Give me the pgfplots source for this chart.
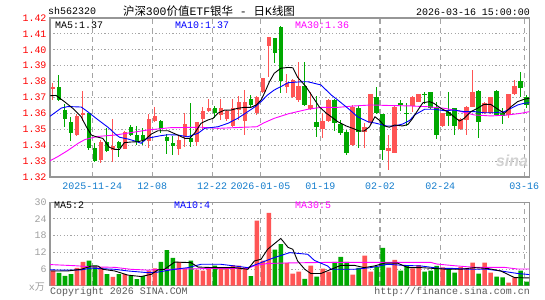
\documentclass[border=0pt]{standalone}
\usepackage{pgfplots}
\pgfplotsset{compat=1.18}
\usepackage{pgfplotstable}
\usepackage{fontspec}
\setmainfont{Liberation Mono}
\setmonofont{Liberation Mono}
\newfontfamily\cjk{Noto Sans CJK SC}
\newfontfamily\sansb{Liberation Sans}
\definecolor{cred}{RGB}{255,85,85}
\definecolor{cgreen}{RGB}{0,168,0}
\definecolor{cblue}{RGB}{0,0,255}
\definecolor{cmag}{RGB}{255,0,255}
\definecolor{framec}{RGB}{150,150,150}
\definecolor{gridc}{RGB}{165,165,165}
\definecolor{datec}{RGB}{20,125,205}
\definecolor{vlab}{RGB}{160,160,160}
\definecolor{copyc}{RGB}{90,90,90}

% red (rising) candles: index open high low close volume
\pgfplotstableread{
i o h l c v
0 1.3755 1.3793 1.3684 1.3765 5.4
4 1.3464 1.3596 1.3458 1.3586 6.4
5 1.3595 1.3741 1.3555 1.3601 8.6
8 1.3310 1.3433 1.3288 1.3422 6.6
10 1.3367 1.3565 1.3296 1.3398 3.2
12 1.3378 1.3492 1.3373 1.3483 4.2
16 1.3426 1.3594 1.3380 1.3562 5.4
17 1.3552 1.3638 1.3546 1.3584 6.2
21 1.3376 1.3464 1.3338 1.3433 8.6
22 1.3450 1.3601 1.3387 1.3533 6.2
24 1.3422 1.3547 1.3395 1.3544 5.8
25 1.3565 1.3638 1.3496 1.3617 5.4
26 1.3617 1.3689 1.3610 1.3636 6.2
28 1.3590 1.3689 1.3558 1.3636 6.6
29 1.3565 1.3620 1.3555 1.3615 6.2
30 1.3521 1.3689 1.3512 1.3632 7.4
31 1.3621 1.3709 1.3558 1.3674 7.2
32 1.3554 1.3747 1.3464 1.3674 6.6
34 1.3604 1.3710 1.3590 1.3701 23.4
35 1.3736 1.3825 1.3728 1.3821 9.0
36 1.4026 1.4079 1.3831 1.4079 26.2
39 1.3768 1.3846 1.3730 1.3789 8.2
40 1.3701 1.3815 1.3697 1.3810 4.3
41 1.3684 1.3921 1.3674 1.3774 5.1
43 1.3626 1.3736 1.3620 1.3653 7.2
45 1.3500 1.3601 1.3443 1.3552 6.1
46 1.3554 1.3689 1.3549 1.3684 5.1
50 1.3401 1.3653 1.3395 1.3638 4.0
52 1.3485 1.3538 1.3380 1.3516 10.8
53 1.3538 1.3725 1.3532 1.3722 5.1
56 1.3365 1.3464 1.3244 1.3380 6.5
57 1.3353 1.3647 1.3350 1.3642 9.3
60 1.3647 1.3709 1.3611 1.3705 6.2
61 1.3674 1.3725 1.3670 1.3720 7.4
65 1.3521 1.3605 1.3515 1.3601 6.6
68 1.3500 1.3570 1.3495 1.3565 6.7
69 1.3558 1.3645 1.3464 1.3642 6.2
70 1.3642 1.3873 1.3640 1.3736 8.3
72 1.3601 1.3670 1.3595 1.3667 8.3
73 1.3601 1.3705 1.3595 1.3701 4.7
76 1.3590 1.3725 1.3569 1.3722 1.1
77 1.3722 1.3810 1.3717 1.3772 3.0
}\redtab

% green (falling) candles
\pgfplotstableread{
i o h l c v
1 1.3768 1.3841 1.3678 1.3684 4.6
2 1.3624 1.3656 1.3516 1.3568 3.5
3 1.3548 1.3580 1.3428 1.3474 4.2
6 1.3602 1.3605 1.3370 1.3385 9.0
7 1.3380 1.3412 1.3296 1.3300 7.3
9 1.3422 1.3506 1.3357 1.3365 4.2
11 1.3422 1.3425 1.3328 1.3381 4.2
13 1.3516 1.3530 1.3458 1.3464 3.4
14 1.3464 1.3521 1.3401 1.3422 2.4
15 1.3464 1.3510 1.3400 1.3432 3.4
18 1.3554 1.3556 1.3475 1.3502 8.6
19 1.3453 1.3470 1.3345 1.3428 12.8
20 1.3412 1.3458 1.3338 1.3395 10.0
23 1.3443 1.3667 1.3391 1.3422 9.0
27 1.3632 1.3647 1.3569 1.3604 7.2
33 1.3691 1.3716 1.3638 1.3653 3.4
37 1.4072 1.4075 1.3919 1.3978 13.0
38 1.4145 1.4150 1.3730 1.3806 15.0
42 1.3774 1.3921 1.3647 1.3653 2.5
44 1.3548 1.3709 1.3450 1.3516 3.3
47 1.3684 1.3689 1.3491 1.3538 8.6
48 1.3531 1.3558 1.3464 1.3475 10.4
49 1.3485 1.3496 1.3338 1.3349 8.6
51 1.3632 1.3647 1.3380 1.3485 6.4
54 1.3701 1.3764 1.3595 1.3601 6.7
55 1.3596 1.3596 1.3307 1.3370 13.6
58 1.3664 1.3684 1.3617 1.3658 5.4
59 1.3605 1.3667 1.3521 1.3599 7.2
62 1.3722 1.3736 1.3657 1.3716 5.1
63 1.3733 1.3735 1.3628 1.3632 5.4
64 1.3632 1.3674 1.3439 1.3464 7.1
66 1.3607 1.3736 1.3521 1.3585 6.0
67 1.3632 1.3635 1.3464 1.3521 4.7
71 1.3741 1.3745 1.3447 1.3548 4.3
74 1.3741 1.3745 1.3588 1.3590 3.3
75 1.3601 1.3632 1.3531 1.3585 3.0
78 1.3806 1.3862 1.3705 1.3758 5.4
79 1.3703 1.3716 1.3634 1.3653 1.5
}\greentab

\pgfplotsset{
  kframe/.style={
    scale only axis, anchor=south west,
    xmin=-0.5, xmax=79.45,
    axis line style={draw=framec, line width=1.3bp},
    major tick length=0pt,
    xtick={6.55,16.55,26.55,34.6,44.6,54.55,64.6,78.6},
    xmajorgrids, ymajorgrids,
    x grid style={dash pattern=on 5bp off 4bp, line width=1.2bp, color=gridc},
    y grid style={dash pattern=on 1.2bp off 2.2bp, line width=1bp, color=gridc},
    tick label style={font=\fontsize{10}{10}\selectfont},
    /pgf/number format/assume math mode=true,
  },
  wick/.style={draw=none, mark=none, forget plot,
    error bars/.cd, y dir=both, y explicit, error mark=none,
    error bar style={draw=#1, line width=1bp, solid}},
  body/.style={draw=none, mark=none, forget plot,
    error bars/.cd, y dir=both, y explicit, error mark=none,
    error bar style={draw=#1, line width=4.6bp, solid}},
}

\begin{document}
\begin{tikzpicture}
\fill[white] (0,0) rectangle (545bp,300bp);
% ---------------- price panel ----------------
\begin{axis}[kframe, at={(50bp,123bp)}, width=479.3bp, height=159bp,
  ymin=1.32, ymax=1.42,
  ytick={1.32,1.33,1.34,1.35,1.36,1.37,1.38,1.39,1.40,1.41,1.42},
  yticklabel style={text=red, /pgf/number format/.cd, fixed, fixed zerofill, precision=2},
  xticklabels={2025-11-24,12-08,12-22,2026-01-05,01-19,02-02,02-24,03-16},
  xticklabel style={text=datec, yshift=-2bp},
]
\addplot[wick=cred] table[x=i, y expr={(\thisrow{h}+\thisrow{l})/2}, y error expr={(\thisrow{h}-\thisrow{l})/2}] {\redtab};
\addplot[body=cred] table[x=i, y expr={(\thisrow{o}+\thisrow{c})/2}, y error expr={max(abs(\thisrow{c}-\thisrow{o})/2,0.0003)}] {\redtab};
\addplot[wick=cgreen] table[x=i, y expr={(\thisrow{h}+\thisrow{l})/2}, y error expr={(\thisrow{h}-\thisrow{l})/2}] {\greentab};
\addplot[body=cgreen] table[x=i, y expr={(\thisrow{o}+\thisrow{c})/2}, y error expr={max(abs(\thisrow{c}-\thisrow{o})/2,0.0003)}] {\greentab};
% MA30
\addplot[cmag, line width=0.9bp, mark=none] coordinates {
(-0.5,1.3302) (0.8,1.3328) (2.4,1.3365) (4.2,1.3412) (5.3,1.3435) (7.4,1.3455) (10.4,1.3464) (13,1.3479) (15.7,1.3495) (19.5,1.3510) (24.7,1.3513) (27.5,1.3506) (31.9,1.3513) (34,1.3516) (35.2,1.3541) (36.9,1.3569) (39.3,1.3598) (42.5,1.3626) (44.7,1.3638) (47.5,1.3638) (50.3,1.3647) (53.1,1.3653) (55.8,1.3650) (59.5,1.3647) (62.5,1.3642) (65.3,1.3632) (67.5,1.3617) (70.3,1.3590) (73.1,1.3584) (75.9,1.3590) (78.1,1.3601) (79.45,1.3611)};
% MA10
\addplot[cblue, line width=0.9bp, mark=none] coordinates {
(-0.5,1.3582) (1.4,1.3634) (2.5,1.3643) (3.4,1.3642) (4.7,1.3640) (5.6,1.3616) (7.5,1.3560) (9.2,1.3512) (10.4,1.3470) (11.1,1.3450) (12.6,1.3438) (13.8,1.3425) (14.7,1.3412) (15.7,1.3443) (16.9,1.3452) (18,1.3460) (19.2,1.3466) (20.8,1.3464) (22.5,1.3453) (24.2,1.3475) (25.3,1.3506) (27.5,1.3516) (29.2,1.3538) (30.8,1.3569) (32.5,1.3611) (33.9,1.3647) (34.7,1.3674) (35.8,1.3716) (36.9,1.3747) (38,1.3768) (39.2,1.3793) (41.4,1.3799) (42.5,1.3799) (44.7,1.3779) (46.4,1.3716) (47.5,1.3684) (49.2,1.3632) (50.8,1.3579) (52.5,1.3548) (53.9,1.3538) (55.6,1.3521) (57,1.3521) (58.3,1.3533) (59.5,1.3556) (60.3,1.3590) (62,1.3626) (63.6,1.3626) (65.3,1.3617) (66.9,1.3621) (68.6,1.3611) (70.3,1.3611) (71.9,1.3604) (73.6,1.3604) (75.3,1.3611) (76.4,1.3632) (77.5,1.3653) (78.6,1.3664) (79.45,1.3667)};
% MA5
\addplot[black, line width=0.9bp, mark=none] coordinates {
(-0.5,1.3711) (0.5,1.3713) (1.9,1.3674) (3.3,1.3632) (4.7,1.3579) (5.5,1.3520) (6.4,1.3464) (7.2,1.3453) (8.3,1.3443) (9.4,1.3387) (10.3,1.3374) (11.1,1.3374) (11.9,1.3416) (13,1.3420) (14.2,1.3422) (15.3,1.3433) (16.4,1.3470) (17.5,1.3491) (19.2,1.3491) (20.8,1.3464) (22,1.3443) (22.8,1.3443) (23.6,1.3475) (24.7,1.3538) (25.8,1.3558) (26.7,1.3569) (27.5,1.3601) (28.6,1.3621) (29.7,1.3621) (30.8,1.3632) (31.9,1.3638) (33,1.3638) (33.9,1.3653) (34.7,1.3684) (35.3,1.3730) (36.1,1.3799) (36.9,1.3852) (38,1.3884) (39.2,1.3889) (40,1.3887) (40.8,1.3827) (42.2,1.3768) (43.3,1.3705) (44.4,1.3642) (45.6,1.3601) (46.4,1.3579) (47.5,1.3548) (48.9,1.3521) (50,1.3506) (51.1,1.3489) (51.9,1.3489) (52.8,1.3516) (53.7,1.3579) (54.4,1.3558) (55.3,1.3521) (56.1,1.3513) (57,1.3527) (58.3,1.3521) (59.2,1.3530) (60,1.3569) (60.8,1.3617) (61.7,1.3667) (62.8,1.3674) (63.5,1.3664) (64.7,1.3632) (65.8,1.3611) (66.9,1.3579) (67.8,1.3552) (68.6,1.3569) (69.7,1.3611) (70.8,1.3632) (71.9,1.3657) (73,1.3657) (74.2,1.3626) (75.3,1.3601) (76.4,1.3642) (77.5,1.3674) (78.6,1.3689) (79.45,1.3695)};
\end{axis}
% ---------------- volume panel ----------------
\begin{axis}[kframe, at={(50bp,14.3bp)}, width=479.3bp, height=83.4bp,
  ymin=0, ymax=30, ytick={0,6,12,18,24,30}, yticklabels={,6,12,18,24,30},
  yticklabel style={text=vlab},
  xticklabels={},
]
\addplot[ybar, bar width=4.6bp, bar shift=0pt, fill=cred, draw=none, forget plot] table[x=i, y=v] {\redtab};
\addplot[ybar, bar width=4.6bp, bar shift=0pt, fill=cgreen, draw=none, forget plot] table[x=i, y=v] {\greentab};
\addplot[cmag, line width=0.9bp, mark=none] coordinates {
(-0.5,7.6) (3.6,7.2) (6.4,6.8) (10.3,6.6) (13,5.9) (15.8,5.6) (17.5,5.8) (21.4,6.0) (26.9,6.2) (32.5,6.2) (33.6,7.2) (35.8,8.0) (39.5,8.2) (46.4,8.4) (63,8.4) (64,7.8) (66.9,7.2) (70.3,6.6) (75.3,6.6) (77.5,6.0) (79.45,6.0)};
\addplot[cblue, line width=0.9bp, mark=none] coordinates {
(-0.5,5.7) (1.9,5.6) (4.7,5.7) (6.4,6.3) (10.3,5.9) (12.5,5.3) (15.8,4.7) (17.5,4.9) (20.3,5.9) (22.5,6.5) (24.7,7.7) (28,7.7) (30.3,7.1) (32.5,6.5) (34.7,8.3) (36.9,10.1) (39.5,11.9) (42.5,11.3) (43.6,9.1) (45.8,7.1) (46.4,5.9) (50.3,5.9) (53,6.5) (55.8,7.7) (58.6,7.3) (61.4,7.1) (64.2,6.3) (66.9,6.2) (69.7,5.9) (72.5,5.9) (74.7,5.3) (77.5,4.4) (79.45,4.0)};
\addplot[black, line width=0.9bp, mark=none] coordinates {
(-0.3,5.3) (2.5,5.3) (4.7,5.9) (6.4,7.1) (7.5,7.1) (8.3,5.9) (10.3,5.3) (12.5,3.8) (14.7,3.3) (16.4,4.1) (17.5,5.7) (18.6,5.9) (20.3,8.5) (23,8.3) (24.2,6.7) (26.9,6.5) (30.3,6.5) (32.5,5.9) (33.6,8.9) (34.7,9.5) (35.8,13.1) (38,17.0) (39.2,13.8) (40,13.1) (40.8,8.9) (42,5.9) (43,4.4) (44.7,4.4) (46.4,5.9) (48,7.3) (50.3,7.3) (51.9,6.5) (53.6,7.1) (55.3,8.1) (57.5,8.1) (59.2,6.5) (61.4,6.5) (63.6,6.2) (65.8,5.9) (68,5.9) (70.3,6.5) (72.5,6.2) (74.7,5.3) (77,2.9) (79.45,2.8)};
\end{axis}
% ---------------- texts ----------------
\begin{scope}[every node/.style={inner sep=0pt, font=\fontsize{10}{10}\selectfont}]
\node[anchor=west] at (48bp,289bp) {sh562320};
\node[font=\fontsize{11.5}{12}\selectfont] at (209bp,289bp) {{\cjk 沪深}300{\cjk 价值}ETF{\cjk 银华} - {\cjk 日}K{\cjk 线图}};
\node[anchor=east] at (530bp,288bp) {2026-03-16 15:00:00};
\node[anchor=west] at (55bp,275bp) {MA5:1.37};
\node[anchor=west, text=cblue] at (175bp,275bp) {MA10:1.37};
\node[anchor=west, text=cmag] at (295bp,275bp) {MA30:1.36};
\node[anchor=west] at (54bp,94.5bp) {MA5:2};
\node[anchor=west, text=cblue] at (174bp,94.5bp) {MA10:4};
\node[anchor=west, text=cmag] at (295bp,94.5bp) {MA30:5};
\node[anchor=east, text=vlab] at (45bp,13bp) {x{\cjk 万}};
\node[anchor=west, text=copyc] at (50bp,8bp) {Copyright 2026 SINA.COM};
\node[anchor=east, text=copyc] at (530bp,8bp) {http://finance.sina.com.cn};
\node[text=gray!35, font=\sansb\bfseries\itshape\fontsize{16}{16}\selectfont] at (512bp,139bp) {sina};
\end{scope}
\end{tikzpicture}
\end{document}
